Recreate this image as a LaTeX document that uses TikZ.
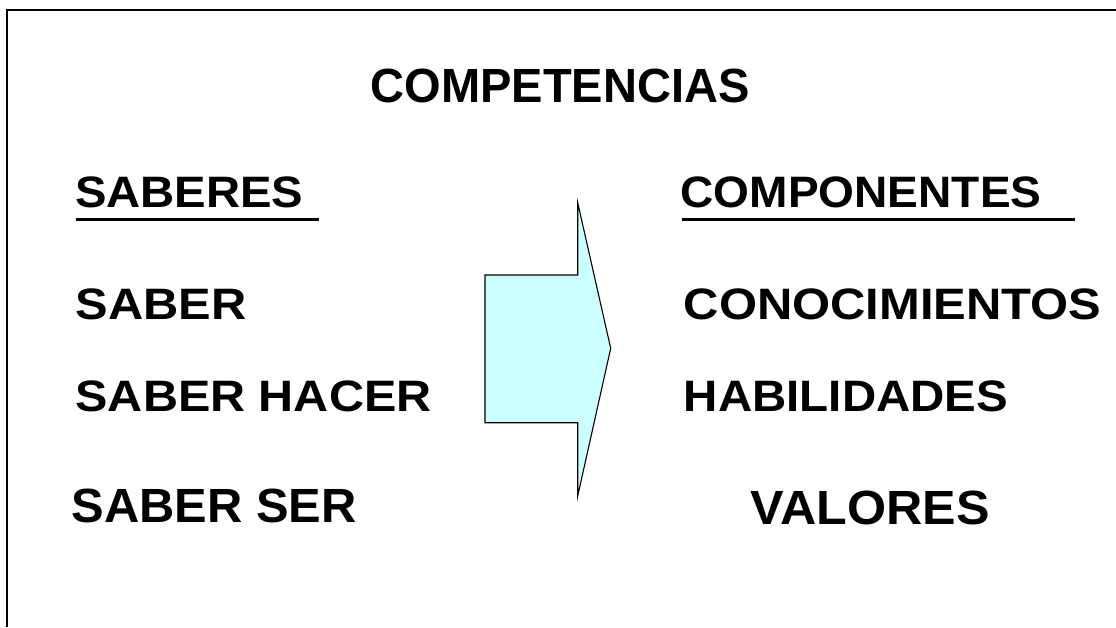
\documentclass[tikz,border=0pt]{standalone}
\usepackage{fontspec}
\setmainfont{Liberation Sans}
\usepackage{graphicx}
\newcommand\fitw[2]{\resizebox{#1}{\height}{#2}}
\definecolor{arrowfill}{HTML}{CCFFFF}
\tikzset{
  lbl/.style={inner sep=0pt, anchor=base west, font=\bfseries\fontsize{44}{50}\selectfont},
  lblbig/.style={inner sep=0pt, anchor=base west, font=\bfseries\fontsize{48}{54}\selectfont},
  uline/.style={line width=3pt},
  frame/.style={line width=2pt},
  bigarrow/.style={draw=black, line width=1.1pt, fill=arrowfill, line join=miter}
}
\begin{document}
\begin{tikzpicture}[x=1pt,y=-1pt]
\useasboundingbox (0,0) rectangle (1116,627);
\fill[white] (0,0) rectangle (1116,627);
% frame
\coordinate (ftl) at (7,10);
\coordinate (ftr) at (1116,10);
\coordinate (fbl) at (7,627);
\draw[frame] (ftr) -- (ftl) -- (fbl);
% title
\node[lblbig] (title) at (370.4,102.7) {\fitw{379pt}{COMPETENCIAS}};
% headers
\node[lbl] (saberes) at (74.8,207.3) {\fitw{228.3pt}{SABERES}};
\node[lbl] (componentes) at (680.4,207.3) {\fitw{361pt}{COMPONENTES}};
\coordinate (u1a) at (76,219);
\coordinate (u1b) at (319,219);
\coordinate (u2a) at (682,219);
\coordinate (u2b) at (1075,219);
\draw[uline] (u1a) -- (u1b);
\draw[uline] (u2a) -- (u2b);
% left column
\node[lbl] (saber) at (75.4,319.3) {\fitw{171pt}{SABER}};
\node[lbl] (saberhacer) at (75.4,411.7) {\fitw{356pt}{SABER HACER}};
\node[lblbig] (saberser) at (71.6,522.7) {\fitw{284.8pt}{SABER SER}};
% right column
\node[lbl] (conoc) at (683.7,319.3) {\fitw{417.6pt}{CONOCIMIENTOS}};
\node[lbl] (habil) at (683.7,411.7) {\fitw{324.3pt}{HABILIDADES}};
\node[lblbig] (valores) at (750.3,524) {\fitw{239.1pt}{VALORES}};
% arrow
\coordinate (a1) at (485,275);
\coordinate (a2) at (577.7,275);
\coordinate (a3) at (577.7,202.7);
\coordinate (tip) at (610.7,348.3);
\coordinate (a5) at (577.7,496);
\coordinate (a6) at (577.7,422.7);
\coordinate (a7) at (485,422.7);
\draw[bigarrow] (a1) -- (a2) -- (a3) -- (tip) -- (a5) -- (a6) -- (a7) -- cycle;
\end{tikzpicture}
\end{document}
